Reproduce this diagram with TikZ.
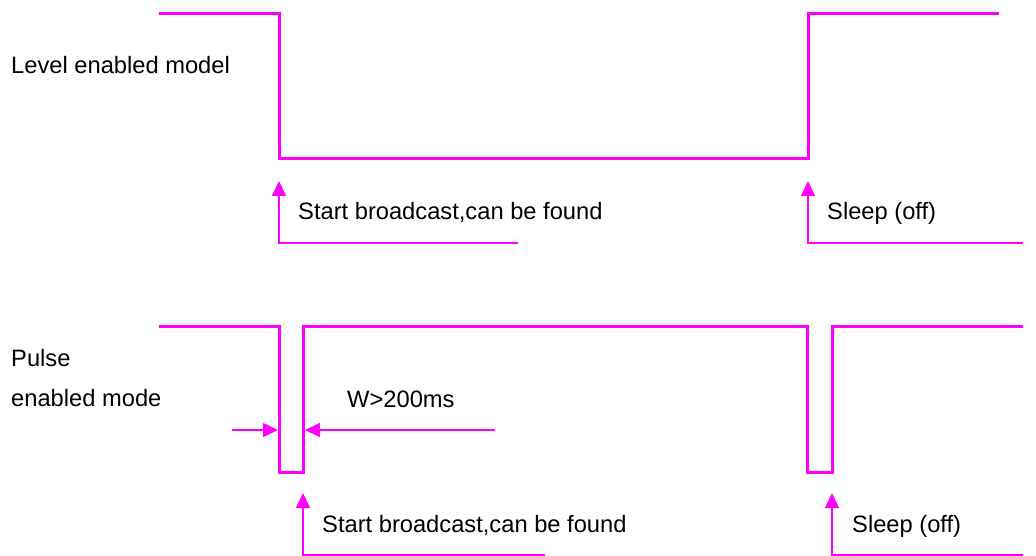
\documentclass[tikz,border=0pt]{standalone}
\usepackage{fontspec}
\setmainfont{Liberation Sans}
\usetikzlibrary{arrows.meta}
\definecolor{mag}{RGB}{255,0,255}
\tikzset{
  wave/.style={draw=mag, line width=3pt, line join=miter},
  pointer/.style={draw=mag, line width=1.6pt, -{Triangle[length=15pt,width=14pt]}},
  pointerR/.style={draw=mag, line width=1.6pt, {Triangle[length=15pt,width=14pt]}-},
  lbl/.style={anchor=base west, inner sep=0pt, font=\fontsize{23.7}{28}\selectfont}
}
\begin{document}
\begin{tikzpicture}[x=1pt,y=-1pt]
\useasboundingbox (0,0) rectangle (1036,556);
% labels
\node[lbl] (lvl) at (11,74) {Level enabled model};
\node[lbl] (pul) at (11,366) {Pulse};
\node[lbl] (enm) at (11,406) {enabled mode};
\node[lbl] (sb1) at (298,220) {Start broadcast,can be found};
\node[lbl] (sl1) at (827,220) {Sleep (off)};
\node[lbl] (w) at (347,407) {W>200ms};
\node[lbl] (sb2) at (322,532) {Start broadcast,can be found};
\node[lbl] (sl2) at (852,532) {Sleep (off)};
% level waveform
\coordinate (a0) at (159,14);
\coordinate (a1) at (279,14);
\coordinate (a2) at (279,159);
\coordinate (a3) at (808,159);
\coordinate (a4) at (808,14);
\coordinate (a5) at (999,14);
\path[wave] (a0) -- (a1) -- (a2) -- (a3) -- (a4) -- (a5);
% level pointers
\coordinate (p1e) at (518,243);
\coordinate (p1c) at (279,243);
\coordinate (p1t) at (279,181);
\path[pointer] (p1e) -- (p1c) -- (p1t);
\coordinate (p2e) at (1023,243);
\coordinate (p2c) at (808,243);
\coordinate (p2t) at (808,181);
\path[pointer] (p2e) -- (p2c) -- (p2t);
% pulse waveform
\coordinate (b0) at (159,326);
\coordinate (b1) at (279,326);
\coordinate (b2) at (279,472);
\coordinate (b3) at (303,472);
\coordinate (b4) at (303,326);
\coordinate (b5) at (807,326);
\coordinate (b6) at (807,472);
\coordinate (b7) at (832,472);
\coordinate (b8) at (832,326);
\coordinate (b9) at (1023,326);
\path[wave] (b0) -- (b1) -- (b2) -- (b3) -- (b4) -- (b5) -- (b6) -- (b7) -- (b8) -- (b9);
% width dimension
\coordinate (d1s) at (232,430);
\coordinate (d1t) at (278,430);
\coordinate (d2s) at (495,430);
\coordinate (d2t) at (305,430);
\path[pointer] (d1s) -- (d1t);
\path[pointer] (d2s) -- (d2t);
% pulse pointers
\coordinate (q1e) at (545,555);
\coordinate (q1c) at (303,555);
\coordinate (q1t) at (303,493);
\path[pointer] (q1e) -- (q1c) -- (q1t);
\coordinate (q2e) at (1023,555);
\coordinate (q2c) at (832,555);
\coordinate (q2t) at (832,493);
\path[pointer] (q2e) -- (q2c) -- (q2t);
\end{tikzpicture}
\end{document}
